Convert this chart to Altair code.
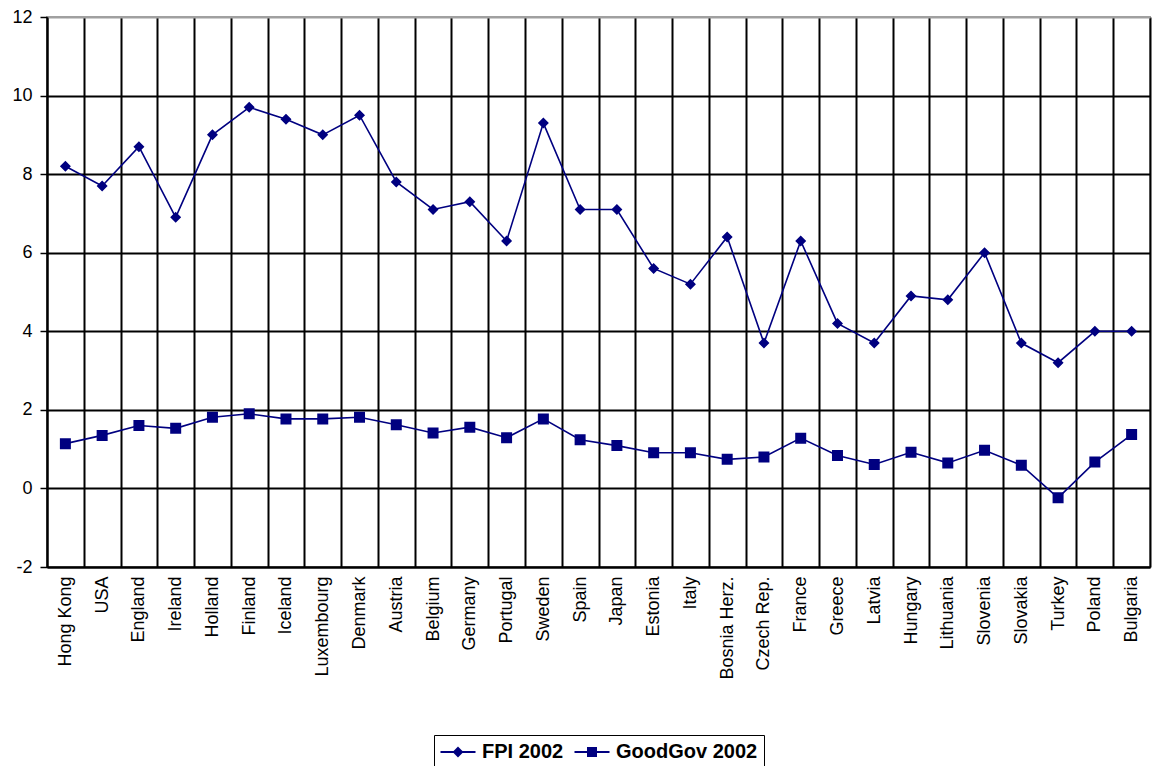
import altair as alt
import pandas as pd

countries = ["Hong Kong", "USA", "England", "Ireland", "Holland", "Finland", "Iceland",
             "Luxembourg", "Denmark", "Austria", "Belgium", "Germany", "Portugal", "Sweden",
             "Spain", "Japan", "Estonia", "Italy", "Bosnia Herz.", "Czech Rep.", "France",
             "Greece", "Latvia", "Hungary", "Lithuania", "Slovenia", "Slovakia", "Turkey",
             "Poland", "Bulgaria"]
fpi_2002 = [8.2, 7.7, 8.7, 6.9, 9.0, 9.7, 9.4, 9.0, 9.5, 7.8, 7.1, 7.3, 6.3, 9.3, 7.1,
            7.1, 5.6, 5.2, 6.4, 3.7, 6.3, 4.2, 3.7, 4.9, 4.8, 6.0, 3.7, 3.2, 4.0, 4.0]
goodgov_2002 = [1.14, 1.35, 1.60, 1.53, 1.81, 1.90, 1.77, 1.77, 1.81, 1.62, 1.41, 1.56,
                1.29, 1.77, 1.24, 1.09, 0.91, 0.91, 0.74, 0.80, 1.28, 0.84, 0.61, 0.92,
                0.65, 0.97, 0.59, -0.24, 0.67, 1.37]
series_names = ["FPI 2002", "GoodGov 2002"]

rows = []
for i, c in enumerate(countries):
    rows.append({"country": c, "series": series_names[0], "value": fpi_2002[i]})
    rows.append({"country": c, "series": series_names[1], "value": goodgov_2002[i]})
df = pd.DataFrame(rows)

NAVY = "#000080"
FONT = "Arial, Liberation Sans, sans-serif"
NBSP = "\u00a0"

# marker shapes with a horizontal stroke segment (only visible where stroked: in the legend)
diamond_path = "M-1.75,0L1.75,0M0,-0.4L0.4,0L0,0.4L-0.4,0Z"
square_path = "M-1.75,0L1.75,0M-0.4,-0.4L0.4,-0.4L0.4,0.4L-0.4,0.4Z"

legend_props = dict(
    title=None,
    orient="none",
    legendX=387,
    legendY=718,
    direction="horizontal",
    labelFont=FONT,
    labelFontSize=20,
    labelFontWeight="bold",
    labelColor="#000",
    labelOffset=13,
    labelExpr="datum.label == 'GoodGov 2002' ? datum.label + '" + NBSP * 2 + "' : datum.label",
    symbolOffset=7,
    symbolSize=400,
    symbolFillColor=NAVY,
    symbolStrokeWidth=2,
    symbolOpacity=1,
    columnPadding=6,
    strokeColor="#000",
    fillColor="#fff",
    padding=6,
)

x_enc = alt.X(
    "country:N",
    sort=countries,
    scale=alt.Scale(type="band", paddingInner=0, paddingOuter=0),
    axis=alt.Axis(
        title=None,
        labelAngle=-90,
        labelFont=FONT,
        labelFontSize=18,
        labelColor="#000",
        labelPadding=9,
        ticks=False,
        tickBand="extent",
        grid=True,
        gridColor="#000",
        gridWidth=2,
        domainColor="#000",
        domainWidth=2,
    ),
)
y_enc = alt.Y(
    "value:Q",
    scale=alt.Scale(domain=[-2, 12], nice=False, zero=False),
    axis=alt.Axis(
        title=None,
        values=[-2, 0, 2, 4, 6, 8, 10, 12],
        labelExpr="toString(datum.value)",
        labelFont=FONT,
        labelFontSize=18,
        labelColor="#000",
        labelPadding=8,
        tickSize=7,
        tickColor="#000",
        tickWidth=1.5,
        grid=True,
        gridColor={"condition": {"test": "datum.value === 12", "value": "#a0a0a0"}, "value": "#000000"},
        gridWidth=2,
        domainColor="#000",
        domainWidth=2,
    ),
)

lines = alt.Chart(df).mark_line(strokeWidth=1.6).encode(
    x=x_enc,
    y=y_enc,
    color=alt.Color(
        "series:N",
        scale=alt.Scale(domain=series_names, range=[NAVY, NAVY]),
        legend=alt.Legend(**legend_props),
    ),
)

points = alt.Chart(df).mark_point(
    filled=True, color=NAVY, size=756, opacity=1
).encode(
    x=x_enc,
    y=y_enc,
    strokeWidth=alt.value(0),
    shape=alt.Shape(
        "series:N",
        scale=alt.Scale(domain=series_names, range=[diamond_path, square_path]),
        legend=alt.Legend(**legend_props),
    ),
)

chart = (
    alt.layer(lines, points)
    .properties(
        width=1103,
        height=550,
        autosize=alt.AutoSizeParams(type="none"),
        padding={"left": 47, "top": 17, "right": 2, "bottom": 199},
        background="#ffffff",
    )
    .configure_view(stroke="#a0a0a0", strokeWidth=2)
)

chart.save("out.html", embed_options={"renderer": "svg", "actions": False})
